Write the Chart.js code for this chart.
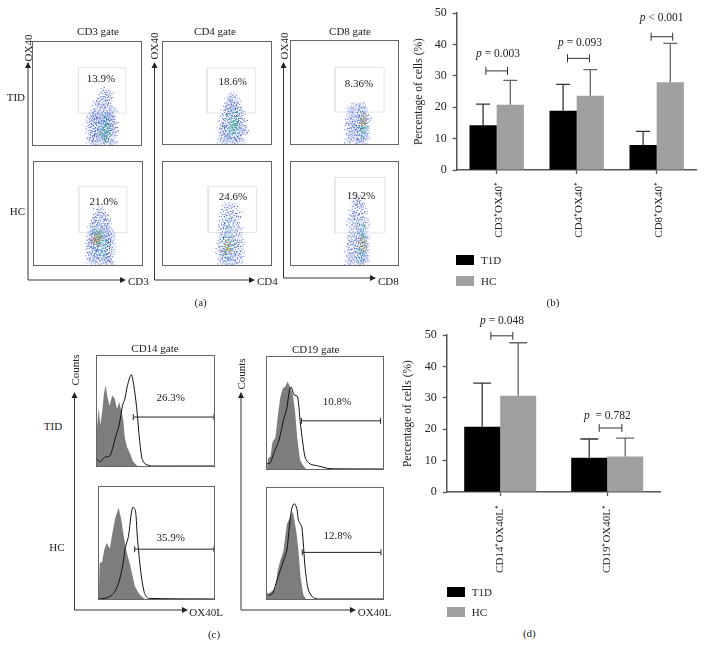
<!DOCTYPE html>
<html>
<head>
<meta charset="utf-8">
<script src="https://cdn.jsdelivr.net/npm/chart.js@4/dist/chart.umd.js"></script>
<style>
  body { margin: 0; background: #fff; width: 704px; height: 655px; overflow: hidden; position: relative; }
  canvas { position: absolute; }
  .frame { outline: 1.5px solid #666; }
  .t { position: absolute; font: 11px "Liberation Serif", serif; color: #222; white-space: nowrap; }
  .sw { position: absolute; width: 18px; height: 10px; }
  svg { position: absolute; left: 0; top: 0; }
</style>
</head>
<body>
<svg width="704" height="655" stroke="#333" stroke-width="1" fill="#222">
  <path d="M28 63V280H122M154.5 63V280H251M283.5 63V278H372M74.5 393V610H184M241 393V610H352" fill="none"/>
  <path d="M28 62l-3 6h6zM154.5 62l-3 6h6zM283.5 62l-3 6h6zM74.5 392l-3 6h6zM241 392l-3 6h6z" stroke="none"/>
  <path d="M126 280l-6-3v6zM255 280l-6-3v6zM376 278l-6-3v6zM188 610l-6-3v6zM356 610l-6-3v6z" stroke="none"/>
</svg>
<script>
// (b)
const barCatsB = ["CD3⁺OX40⁺", "CD4⁺OX40⁺", "CD8⁺OX40⁺"];
const t1dB = [14.3, 18.9, 8];
const hcB = [20.8, 23.7, 28];
const t1dTopB = [21, 27.3, 12.3];
const hcTopB = [28.6, 32, 40.4];
const bracketFromB = [-0.135, 0.885, 1.93];
const bracketToB = [0.135, 1.16, 2.2];
const bracketLevelB = [31.6, 35.6, 42.5];
// (d)
const barCatsD = ["CD14⁺OX40L⁺", "CD19⁺OX40L⁺"];
const t1dD = [20.8, 10.9];
const hcD = [30.7, 11.3];
const t1dTopD = [34.7, 16.9];
const hcTopD = [47.6, 17.2];
const bracketFromD = [-0.087, 0.925];
const bracketToD = [0.118, 1.137];
const bracketLevelD = [49.8, 20.4];
const yTicks = [0, 10, 20, 30, 40, 50];

// (a) gates, in percent of the plot
const gateCd3Tid = [42, 31, 86, 75];
const gateCd3Hc = [41.4, 31.5, 86, 76];
const gateCd4Tid = [41, 30.4, 85.8, 74.4];
const gateCd4Hc = [41.7, 31.5, 86.5, 76];
const gateCd8Tid = [41.3, 31, 87, 74.5];
const gateCd8Hc = [41, 31, 87.6, 85];

// (a) dots: x,y,x,y...
const cd3TidBlue = [52,4,55,2,58,6,61,1,64,4,67,2,70,5,73,3,75,1,53,9,56,11,59,8,62,10,65,7,68,9,71,11,74,8,76,12,51,14,54,16,57,13,60,15,63,18,66,14,69,16,72,18,75,15,52,20,55,22,58,19,61,23,64,20,67,24,70,21,73,23,76,20,52,26,56,28,59,25,62,29,65,26,68,28,71,27,74,26,54,31,58,33,61,31,64,34,67,31,70,33,73,31,60,37,63,39,66,36,69,38,72,36,61,42,64,44,67,41,70,43,63,47,66,49,69,46,65,53,68,51,72,49,58,40,75,34,57,3,60,12,63,6,66,11,69,3,72,14,54,7,56,19,59,22,62,14,65,21,68,12,71,17,74,22,53,24,57,29,60,27,63,24,66,30,69,25,72,29];
const cd3TidMid = [63,8,65,12,67,6,68,15,66,18,64,21,69,10,67,23,65,27,70,19,62,16,68,27,66,4,71,13];
const cd3TidHot = [66,15,67,11,68,18,65,9];
const cd3HcBlue = [51,4,54,2,57,5,60,1,63,3,66,2,69,5,72,1,50,9,53,11,56,8,59,12,62,9,65,11,68,7,71,10,73,13,50,15,52,18,55,14,58,17,61,15,64,18,67,14,70,17,73,19,50,21,53,24,56,20,59,24,62,21,65,25,68,21,71,24,73,26,51,28,54,31,57,27,60,30,63,28,66,31,69,28,72,31,52,34,55,37,58,33,61,36,64,34,67,37,70,34,54,40,57,43,60,40,63,43,66,40,69,41,56,46,59,48,62,46,65,47,68,45,58,52,61,54,63,51,53,7,56,13,60,6,64,7,67,10,70,3,52,22,55,28,58,22,66,22,69,25,56,32,59,38,62,31,65,35,68,31];
const cd3HcMid = [55,15,57,19,59,23,61,27,63,17,65,13,67,21,53,21,56,27,60,33,63,30,58,9,62,12,66,27,64,8,54,30,61,20,68,17,55,35,60,38,63,24,58,30];
const cd3HcHot = [57,24,58,26,59,28,60,24,56,22,58,21,61,26,59,31,55,25,60,30];
const cd4TidBlue = [53,3,56,1,59,5,62,2,65,4,68,1,71,5,74,2,54,8,57,10,60,7,63,9,66,7,69,10,72,8,75,11,53,13,56,15,59,12,62,15,65,13,68,16,71,13,74,16,76,13,54,19,57,21,60,18,63,21,66,19,69,22,72,19,75,21,55,25,58,27,61,24,64,27,67,25,70,28,73,25,56,31,59,33,62,30,65,33,68,31,71,33,74,30,58,37,61,39,64,36,67,38,70,36,60,42,63,44,66,41,69,43,62,46,65,48,58,6,67,3,55,17,70,16,61,35,65,37];
const cd4TidMid = [60,4,62,8,64,12,66,16,68,20,63,16,61,22,65,25,67,8,69,13,62,26,66,30,63,32,70,24,59,14,68,28];
const cd4TidHot = [64,18,65,22,66,20,64,14,67,17];
const cd4HcBlue = [53,3,56,1,59,4,62,2,65,3,68,1,71,4,52,8,55,10,58,7,61,9,64,7,67,9,70,8,73,11,51,14,54,16,57,13,60,15,63,14,66,16,69,13,72,16,52,21,55,23,58,20,61,22,64,20,67,23,70,21,73,22,53,28,56,30,59,27,62,29,65,27,68,30,71,28,53,34,56,37,59,33,62,36,65,34,68,37,71,34,54,41,57,44,60,40,63,43,66,41,69,44,55,49,58,51,61,48,64,50,67,48,70,50,57,56,60,58,63,55,66,57];
const cd4HcMid = [58,6,60,10,62,14,57,18,59,22,63,18,61,26,64,8,56,12,60,30,62,34,58,35,64,25,59,41,62,45,66,20,55,25,61,3];
const cd4HcHot = [59,16,60,19,61,13,58,13,60,22,62,17];
const cd8TidBlue = [53,3,55,7,57,2,59,6,61,3,63,8,65,2,67,5,69,3,71,7,53,11,55,15,57,10,59,13,61,11,63,15,65,11,67,14,69,10,71,13,53,18,55,22,57,17,59,21,61,18,63,23,65,18,67,22,69,18,71,20,54,26,56,29,58,25,60,28,62,26,64,30,66,25,68,29,70,27,72,25,56,33,58,36,60,33,62,37,65,34,67,37,69,33,63,1,59,16,54,32];
const cd8TidMid = [65,6,66,10,67,14,68,18,66,22,65,26,67,30,69,23,64,14,68,8,70,14,66,33];
const cd8TidHot = [67,20,67,24,68,27,66,17,68,22];
const cd8HcBlue = [53,2,55,6,57,1,59,5,61,2,63,6,65,1,67,4,69,2,71,6,53,10,55,14,57,9,59,13,61,10,63,14,65,9,67,12,69,9,71,13,54,18,56,22,58,17,60,21,62,18,64,22,66,17,69,20,71,19,55,26,57,30,59,25,61,29,63,26,65,30,67,25,69,28,71,26,56,34,59,37,61,33,63,37,65,33,67,36,70,35,55,41,58,45,60,41,62,46,65,42,68,44,71,41,57,50,59,54,61,50,63,55,66,49,69,52,58,59,60,62,64,60,67,58,62,65,57,47,65,57];
const cd8HcMid = [64,4,65,8,66,12,67,16,64,20,68,24,66,28,65,32,67,36,68,8,69,15,63,13,66,38,68,30];
const cd8HcHot = [67,19,68,22,66,24,67,26,68,16,66,15];

// (c) histogram outlines: x,y,x,y... in percent of the plot
const cd14TidFill = [0,33,1.4,52,2.9,38,4.6,51,6,66,7.4,73,8.9,63,10.9,55,13,64,15.2,61,17.2,52,18.9,58,20.6,51,22.3,43,23.8,26,25.8,17,28.1,11.5,30.9,4,34.4,0];
const cd14TidLine = [0,6,2.9,4,6.6,8,10.9,9,13.8,18,16,27,18.9,37,21.8,55,23.8,61,25.8,72,28.1,81,29.5,83,31.5,73,33.8,54,36.1,26.6,38.4,7,41,2,46.6,0,56.4,0,100,0];
const cd14HcFill = [0,0,0.6,32,2.6,33,4.6,44,6.9,50,9.2,45,11.2,55.8,14.1,72,17,81,19,72.8,21.3,57.9,24.2,41.5,27,31,31.4,11,35.7,3.6,40,0];
const cd14HcLine = [0,0,6.9,1,12.7,5,17,14,20.7,30.4,22.8,45.4,25.6,55.8,27.9,75,29.4,82,31.7,79,33.4,54.6,36.3,24.5,39.2,6.6,42.9,0.6,100,0];
const cd19TidFill = [0,0,0.9,9.6,2.9,11,4.9,24.6,7.1,27.5,9.1,45.4,11.4,63.3,13.7,72,15.7,73.4,17.7,78,20,73.4,22.3,66,24.3,49.9,26.3,26,28.6,8,30.9,3.6,33.7,0];
const cd19TidLine = [0,4.5,2.9,5.7,5.7,14,10,24.5,14.3,43.9,17.1,54.3,19.4,70.7,20.9,73,23.4,66,26.3,64.8,28.6,42.4,30.9,23,33.1,9.6,37.1,4.5,44.3,2.7,54.3,0.3,100,0];
const cd19HcFill = [0,3.6,7.1,9.6,9.1,24.6,11.4,34.2,14.3,44,17.1,66.7,20.6,75.7,22.3,78.7,25.1,62,27.1,44,29.1,18.6,31.4,3.6,33.7,0];
const cd19HcLine = [0,5,2,3.6,4.9,5,8.6,17,12.9,30.6,17.1,44,19.4,66.7,21.4,81.7,23.4,86,25.7,81.7,27.1,71,30,65,32.9,27.6,35.7,8,40,1.2,44.3,0,100,0];
// marker: from x, to x, level
const markCd14Tid = [31, 100, 44.5];
const markCd14Hc = [31, 100, 44.5];
const markCd19Tid = [29.7, 97.8, 43];
const markCd19Hc = [30.4, 98.2, 42];

Chart.defaults.font.family = '"Liberation Serif", serif';
Chart.defaults.font.size = 11;
Chart.defaults.color = "#222";
Chart.defaults.animation = false;

const pairs = (a) => {
  const out = [];
  for (let i = 0; i < a.length; i += 2) out.push({ x: a[i], y: a[i + 1] });
  return out;
};

// small speckle used as point style, the dots in the reference are single pixels
function speckle(color, spots) {
  const c = document.createElement("canvas");
  c.width = 7;
  c.height = 7;
  const g = c.getContext("2d");
  g.fillStyle = color;
  spots.forEach(([x, y]) => g.fillRect(x, y, 1, 1));
  return c;
}
const spotsA = [[1, 1], [4, 0], [6, 3], [3, 3], [5, 5], [0, 5]];
const spotsB = [[0, 0], [3, 1], [5, 1], [2, 5], [6, 4], [4, 3]];
const spotsC = [[2, 0], [6, 1], [1, 3], [5, 6], [3, 6], [4, 2]];
const blueStyles = [speckle("rgba(55,75,200,0.8)", spotsA), speckle("rgba(100,125,225,0.75)", spotsB), speckle("rgba(40,60,180,0.75)", spotsC)];
const midStyles = [speckle("rgba(40,160,160,0.8)", spotsB), speckle("rgba(50,150,190,0.8)", spotsC)];
const warmStyles = [speckle("rgba(225,110,50,0.9)", spotsA), speckle("rgba(120,175,70,0.9)", spotsC)];
const greenStyles = [speckle("rgba(70,180,110,0.9)", spotsA), speckle("rgba(90,190,140,0.9)", spotsC)];
const pick = (styles) => (ctx) => styles[ctx.dataIndex % styles.length];

function addCanvas(left, top, w, h, cls) {
  const c = document.createElement("canvas");
  c.width = w;
  c.height = h;
  c.style.left = left + "px";
  c.style.top = top + "px";
  if (cls) c.className = cls;
  document.body.appendChild(c);
  return c;
}

function label(html, x, y, opts = {}) {
  const d = document.createElement("div");
  d.className = "t";
  d.innerHTML = html;
  d.style.left = x + "px";
  d.style.top = y + "px";
  const ax = opts.align === "left" ? "0" : opts.align === "right" ? "-100%" : "-50%";
  d.style.transform = `translate(${ax},-50%)` + (opts.rotate ? " rotate(-90deg)" : "");
  if (opts.size) d.style.fontSize = opts.size + "px";
  document.body.appendChild(d);
}

const hiddenAxes = {
  x: { type: "linear", min: 0, max: 100, display: false },
  y: { type: "linear", min: 0, max: 100, display: false },
};

function dotPanel(left, top, w, h, gate, blue, mid, hot, hotStyles) {
  const [x0, y0, x1, y1] = gate;
  new Chart(addCanvas(left, top, w, h, "frame"), {
    type: "scatter",
    data: {
      datasets: [
        { data: pairs(hot), pointStyle: pick(hotStyles), pointRadius: 3 },
        { data: pairs(mid), pointStyle: pick(midStyles), pointRadius: 3 },
        { data: pairs(blue), pointStyle: pick(blueStyles), pointRadius: 3 },
        { data: pairs(blue), pointRadius: 3.5, backgroundColor: "rgba(130,150,225,0.05)", borderWidth: 0 },
        {
          data: pairs([x0, y0, x1, y0, x1, y1, x0, y1, x0, y0]),
          showLine: true, pointRadius: 0, borderColor: "#e2e5e5", borderWidth: 1,
        },
      ],
    },
    options: {
      responsive: false,
      layout: { padding: 0, autoPadding: false },
      plugins: { legend: { display: false }, tooltip: { enabled: false } },
      scales: hiddenAxes,
    },
  });
}

function histPanel(left, top, w, h, fill, line, mark) {
  new Chart(addCanvas(left, top, w, h, "frame"), {
    type: "scatter",
    data: {
      datasets: [
        {
          data: pairs([mark[0], mark[2], mark[1], mark[2]]),
          showLine: true, borderColor: "#222", borderWidth: 1, clip: false,
          pointStyle: "line", pointRotation: 90, pointRadius: 3, pointBorderColor: "#222", pointBorderWidth: 1,
        },
        {
          data: pairs(line), showLine: true, tension: 0.25, pointRadius: 0,
          borderColor: "#111", borderWidth: 1,
        },
        {
          data: pairs(fill), showLine: true, tension: 0.1, pointRadius: 0,
          borderWidth: 0, backgroundColor: "#7d7d7d", fill: "origin",
        },
      ],
    },
    options: {
      responsive: false,
      layout: { padding: 0, autoPadding: false },
      plugins: { legend: { display: false }, tooltip: { enabled: false } },
      scales: hiddenAxes,
    },
  });
}

// whiskers and p-value brackets go through the chart's own scales
const annotations = {
  id: "annotations",
  afterDatasetsDraw(chart, args, opts) {
    const { ctx, scales } = chart;
    ctx.save();
    chart.data.datasets.forEach((ds, i) => {
      ctx.strokeStyle = ds.whiskerColor;
      ctx.lineWidth = 1.3;
      chart.getDatasetMeta(i).data.forEach((bar, j) => {
        const yt = scales.y.getPixelForValue(ds.tops[j]);
        ctx.beginPath();
        ctx.moveTo(bar.x, bar.y);
        ctx.lineTo(bar.x, yt);
        ctx.moveTo(bar.x - opts.cap, yt);
        ctx.lineTo(bar.x + opts.cap, yt);
        ctx.stroke();
      });
    });
    ctx.strokeStyle = "#333";
    ctx.lineWidth = 1;
    opts.from.forEach((f, k) => {
      const a = scales.x.getPixelForValue(f);
      const b = scales.x.getPixelForValue(opts.to[k]);
      const y = scales.y.getPixelForValue(opts.level[k]);
      ctx.beginPath();
      ctx.moveTo(a, y - 4);
      ctx.lineTo(a, y + 4);
      ctx.moveTo(a, y);
      ctx.lineTo(b, y);
      ctx.moveTo(b, y - 4);
      ctx.lineTo(b, y + 4);
      ctx.stroke();
    });
    ctx.restore();
  },
};

function barPanel(left, top, w, h, cfg) {
  new Chart(addCanvas(left, top, w, h), {
    type: "bar",
    plugins: [annotations],
    data: {
      labels: cfg.cats,
      datasets: [
        { label: "T1D", data: cfg.t1d, tops: cfg.t1dTop, whiskerColor: "#333", backgroundColor: "#000" },
        { label: "HC", data: cfg.hc, tops: cfg.hcTop, whiskerColor: "#666", backgroundColor: "#a0a0a0" },
      ],
    },
    options: {
      responsive: false,
      layout: { padding: { top: cfg.padTop, right: cfg.padRight }, autoPadding: false },
      datasets: { bar: { categoryPercentage: cfg.group, barPercentage: 1 } },
      plugins: {
        legend: { display: false },
        tooltip: { enabled: false },
        annotations: { from: cfg.from, to: cfg.to, level: cfg.level, cap: cfg.cap },
      },
      scales: {
        x: {
          grid: { display: true, offset: false, drawOnChartArea: false, tickLength: 4, color: "#555", tickWidth: 1.3 },
          border: { color: "#555", width: 1.5 },
          ticks: { minRotation: 90, maxRotation: 90, padding: cfg.labelGap, labelOffset: cfg.labelOffset, color: "#222", font: { size: 11 } },
          afterFit: (s) => { s.height = cfg.xHeight; },
        },
        y: {
          min: 0, max: 50,
          afterBuildTicks: (s) => { s.ticks = yTicks.map((v) => ({ value: v })); },
          grid: { display: true, drawOnChartArea: false, tickLength: 4, color: "#555", tickWidth: 1.3 },
          border: { color: "#555", width: 1.5 },
          ticks: { padding: 6, color: "#222", font: { size: 12 } },
          title: { display: true, text: "Percentage of cells (%)", color: "#222", font: { size: 11.5 }, padding: { top: cfg.titleGap, bottom: 0 } },
          afterFit: (s) => { s.width = cfg.yWidth; },
        },
      },
    },
  });
}

dotPanel(33, 42, 108, 103, gateCd3Tid, cd3TidBlue, cd3TidMid, cd3TidHot, greenStyles);
dotPanel(34, 162, 108, 103, gateCd3Hc, cd3HcBlue, cd3HcMid, cd3HcHot, warmStyles);
dotPanel(163, 42, 108, 102, gateCd4Tid, cd4TidBlue, cd4TidMid, cd4TidHot, greenStyles);
dotPanel(163, 162, 108, 103, gateCd4Hc, cd4HcBlue, cd4HcMid, cd4HcHot, warmStyles);
dotPanel(291, 41, 107, 103, gateCd8Tid, cd8TidBlue, cd8TidMid, cd8TidHot, warmStyles);
dotPanel(291, 162, 107, 103, gateCd8Hc, cd8HcBlue, cd8HcMid, cd8HcHot, warmStyles);

histPanel(97, 356, 117, 110, cd14TidFill, cd14TidLine, markCd14Tid);
histPanel(99, 487, 115, 112, cd14HcFill, cd14HcLine, markCd14Hc);
histPanel(267, 357, 116, 112, cd19TidFill, cd19TidLine, markCd19Tid);
histPanel(267, 488, 116, 111, cd19HcFill, cd19HcLine, markCd19Hc);

barPanel(405, 0, 299, 250, {
  cats: barCatsB, t1d: t1dB, hc: hcB, t1dTop: t1dTopB, hcTop: hcTopB,
  from: bracketFromB, to: bracketToB, level: bracketLevelB,
  group: 0.68, cap: 7, padTop: 9.3, padRight: 7.3, xHeight: 80, yWidth: 51.7,
  labelGap: 8, labelOffset: 2.5, titleGap: 7,
});
barPanel(395, 322, 300, 260, {
  cats: barCatsD, t1d: t1dD, hc: hcD, t1dTop: t1dTopD, hcTop: hcTopD,
  from: bracketFromD, to: bracketToD, level: bracketLevelD,
  group: 0.673, cap: 9, padTop: 9.7, padRight: 34.3, xHeight: 90, yWidth: 51.7,
  labelGap: 9, labelOffset: 0, titleGap: 6,
});

// text of (a)
label("CD3 gate", 98, 31);
label("CD4 gate", 215, 31);
label("CD8 gate", 350, 31);
label("13.9%", 101, 78);
label("18.6%", 232.7, 81);
label("8.36%", 359, 83);
label("21.0%", 103.7, 200.7);
label("24.6%", 233, 195.7);
label("19.2%", 361, 195);
label("TID", 25, 96.7, { align: "right" });
label("HC", 25, 210.7, { align: "right" });
label("OX40", 28, 48, { rotate: true });
label("OX40", 154, 46, { rotate: true });
label("OX40", 284, 46, { rotate: true });
label("CD3", 128, 281, { align: "left" });
label("CD4", 257, 281, { align: "left" });
label("CD8", 378, 281, { align: "left" });
label("(a)", 200.7, 301.7);

// text of (c)
label("CD14 gate", 155, 348);
label("CD19 gate", 315.7, 349);
label("26.3%", 170.7, 396.7);
label("35.9%", 170.7, 536.7);
label("10.8%", 337, 400.7);
label("12.8%", 337.7, 535);
label("TID", 53, 426);
label("HC", 57, 546.7);
label("Counts", 75, 370, { rotate: true });
label("Counts", 240.7, 374, { rotate: true });
label("OX40L", 189.3, 611.7, { align: "left" });
label("OX40L", 357.7, 611.7, { align: "left" });
label("(c)", 214, 634);

// text of (b) and (d)
label("<i>p</i> = 0.003", 498, 53, { size: 11.5 });
label("<i>p</i> = 0.093", 580, 41.7, { size: 11.5 });
label("<i>p</i> &lt; 0.001", 661.7, 16.7, { size: 11.5 });
label("<i>p</i> = 0.048", 502, 320, { size: 11.5 });
label("<i>p</i>&nbsp; = 0.782", 607.3, 414.7, { size: 11.5 });
label("(b)", 553, 302);
label("(d)", 529.3, 633.3);

function legendRow(x, y, color, text) {
  const s = document.createElement("div");
  s.className = "sw";
  s.style.left = x + "px";
  s.style.top = y + "px";
  s.style.background = color;
  document.body.appendChild(s);
  label(text, x + 25, y + 5, { align: "left" });
}
legendRow(456, 255, "#000", "T1D");
legendRow(456, 276, "#a0a0a0", "HC");
legendRow(446.7, 586.7, "#000", "T1D");
legendRow(446.7, 607.3, "#a0a0a0", "HC");
</script>
</body>
</html>
